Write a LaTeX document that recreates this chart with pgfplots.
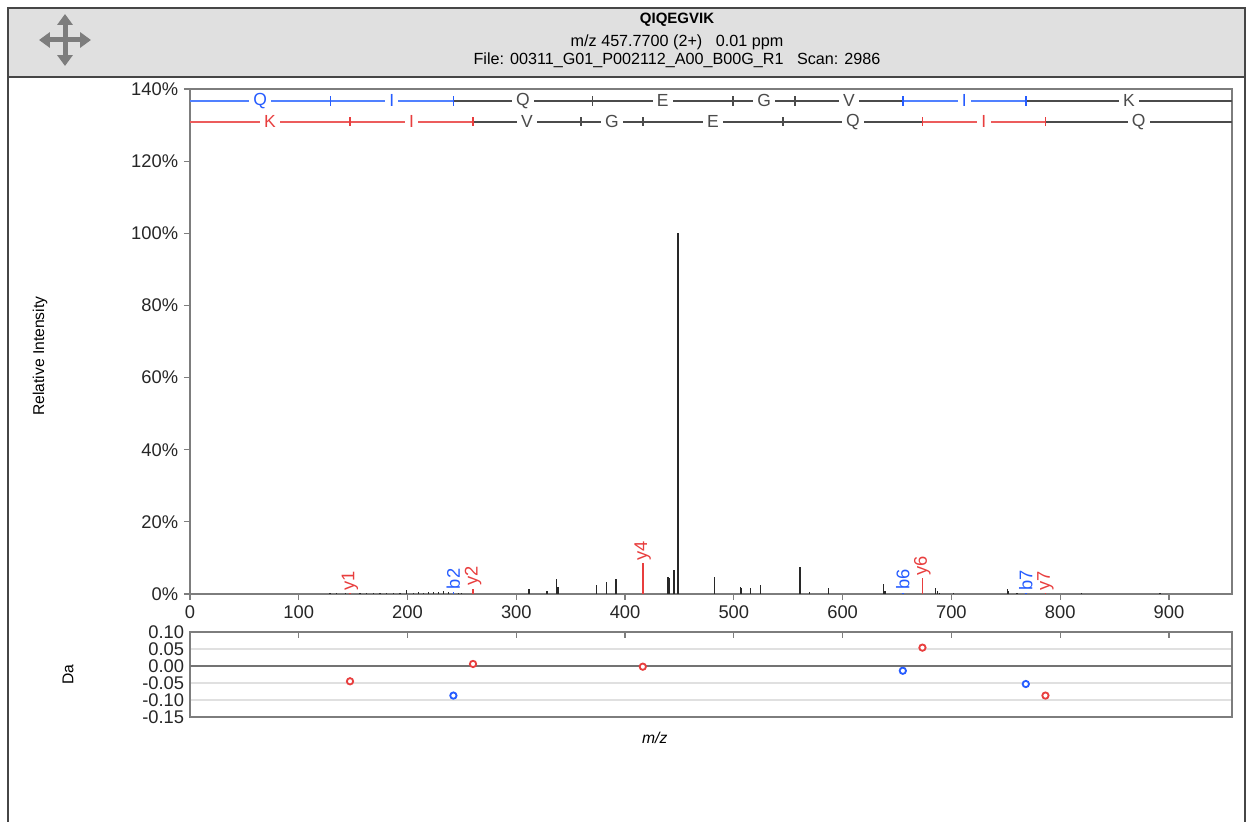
\documentclass[border=0pt]{standalone}
\usepackage{fontspec}
\setmainfont{Liberation Sans}
\usepackage{pgfplots}
\pgfplotsset{compat=1.18}
\usetikzlibrary{arrows.meta}
\definecolor{ionblue}{RGB}{38,92,255}
\definecolor{ionred}{RGB}{232,62,62}
\definecolor{ladblue}{RGB}{80,128,255}
\definecolor{ladred}{RGB}{236,92,92}
\definecolor{ladgray}{RGB}{75,75,75}
\definecolor{hdrgray}{RGB}{224,224,224}
\definecolor{framegray}{RGB}{70,70,70}
\definecolor{axgray}{RGB}{125,125,125}
\definecolor{peakgray}{RGB}{40,40,40}
\definecolor{icongray}{RGB}{125,125,125}

\pgfplotsset{
  ladlbl/.style={draw=none, mark=none, nodes near coords, point meta=explicit symbolic,
    nodes near coords align=center,
    every node near coord/.append style={fill=white, inner xsep=2.5pt, inner ysep=0pt,
      font=\fontsize{10.5}{11}\selectfont, text=#1}},
  ladline/.style={#1, line width=0.9pt, mark=none},
  ladtick/.style={only marks, mark=|, mark size=2.8pt, mark options={#1, line width=0.9pt}},
  ionlbl/.style={ycomb, #1, line width=0.85pt, mark=none, nodes near coords, point meta=explicit symbolic,
    nodes near coords align=west,
    every node near coord/.append style={rotate=90, inner sep=1.2pt,
      font=\fontsize{11}{11}\selectfont, text=#1}},
}

\begin{document}
\begin{tikzpicture}[x=0.6pt,y=0.6pt]
\path (0,0) rectangle (1252,822);
% header band
\fill[hdrgray] (8,745) rectangle (1245,814);
\draw[framegray, line width=0.9pt] (8,0) -- (8,814) -- (1245,814) -- (1245,0);
\draw[framegray, line width=0.9pt] (8,745) -- (1245,745);
% move icon
\begin{scope}[shift={(65,782)}, icongray, line width=3pt]
  \foreach \a in {0,90,180,270}
    \draw[-{Triangle[width=9pt,length=6.5pt]}] (0,0) -- (\a:26);
\end{scope}
\node[font=\fontsize{9}{10}\selectfont\bfseries] at (677,802) {QIQEGVIK};
\node[font=\fontsize{9.7}{11}\selectfont] at (677,780) {m/z 457.7700 (2+)\ \ \ 0.01 ppm};
\node[font=\fontsize{9.7}{11}\selectfont] at (677,762) {File: 00311\_G01\_P002112\_A00\_B00G\_R1\ \ \ Scan: 2986};

% spectrum
\begin{axis}[
  at={(114pt,136.8pt)}, anchor=south west,
  scale only axis, width=625.2pt, height=303pt,
  xmin=0, xmax=958, ymin=0, ymax=140,
  xtick={0,100,...,900}, ytick={0,20,...,140},
  yticklabel={\pgfmathprintnumber{\tick}\%},
  tick align=outside, xtick pos=left, ytick pos=left,
  major tick length=3.6pt,
  axis line style={axgray, line width=0.8pt},
  tick style={axgray, line width=0.7pt},
  ticklabel style={font=\fontsize{11}{12}\selectfont, text=black!85},
  /pgf/number format/assume math mode=true,
  ylabel={Relative Intensity},
  ylabel style={at={(axis description cs:-0.144,0.471)}, anchor=center, font=\fontsize{9.4}{11}\selectfont},
  clip=false,
]
\addplot[ycomb, peakgray, line width=0.85pt, mark=none] table {
mz int
128.7 0.3
134.8 0.2
143.0 0.2
156.3 0.3
162.4 0.2
168.5 0.3
174.7 0.3
180.8 0.3
186.9 0.4
193.0 0.3
199.2 1.0
205.3 0.4
209.9 0.5
214.5 0.4
219.1 0.5
223.7 0.6
228.3 0.5
232.9 0.7
237.5 0.6
246.7 0.4
249.7 0.3
311.6 1.3
328.2 0.8
337.1 4.2
338.2 2.0
373.9 2.4
382.7 3.4
391.6 4.2
439.4 4.8
440.3 4.4
445.0 6.7
448.6 100
482.0 4.6
506.0 2.0
507.0 1.6
515.4 1.7
524.5 2.6
560.8 7.6
569.3 0.6
586.8 1.7
637.4 2.9
639.0 0.8
685.3 1.7
687.2 0.9
689.0 0.4
702.0 0.3
751.4 1.3
752.6 0.8
760.4 0.3
819.7 0.2
891.7 0.2
};
\addplot[ionlbl=ionred] coordinates {(147.11,0.3)[y1] (260.20,1.5)[y2] (416.29,8.6)[y4] (673.39,4.3)[y6] (786.47,0.3)[y7]};
\addplot[ionlbl=ionblue] coordinates {(242.15,0.6)[b2] (655.34,0.4)[b6] (768.42,0.3)[b7]};

% b-ion ladder
\addplot[ladline=ladblue] coordinates {(0,136.7) (242.15,136.7)};
\addplot[ladline=ladgray] coordinates {(242.15,136.7) (655.34,136.7)};
\addplot[ladline=ladblue] coordinates {(655.34,136.7) (768.42,136.7)};
\addplot[ladline=ladgray] coordinates {(768.42,136.7) (958,136.7)};
\addplot[ladtick=ionblue] coordinates {(129.07,136.7) (242.15,136.7) (655.34,136.7) (768.42,136.7)};
\addplot[ladtick=ladgray] coordinates {(370.21,136.7) (499.25,136.7) (556.27,136.7)};
\addplot[ladlbl=ionblue] coordinates {(64.5,136.7)[Q] (185.6,136.7)[I] (711.9,136.7)[I]};
\addplot[ladlbl=ladgray] coordinates {(306.2,136.7)[Q] (434.7,136.7)[E] (527.8,136.7)[G] (605.8,136.7)[V] (863.2,136.7)[K]};

% y-ion ladder
\addplot[ladline=ladred] coordinates {(0,130.9) (260.20,130.9)};
\addplot[ladline=ladgray] coordinates {(260.20,130.9) (673.39,130.9)};
\addplot[ladline=ladred] coordinates {(673.39,130.9) (786.47,130.9)};
\addplot[ladline=ladgray] coordinates {(786.47,130.9) (958,130.9)};
\addplot[ladtick=ionred] coordinates {(147.11,130.9) (260.20,130.9) (673.39,130.9) (786.47,130.9)};
\addplot[ladtick=ladgray] coordinates {(359.27,130.9) (416.29,130.9) (545.33,130.9)};
\addplot[ladlbl=ionred] coordinates {(73.6,130.9)[K] (203.7,130.9)[I] (729.9,130.9)[I]};
\addplot[ladlbl=ladgray] coordinates {(309.7,130.9)[V] (387.8,130.9)[G] (480.8,130.9)[E] (609.4,130.9)[Q] (872.2,130.9)[Q]};
\end{axis}

% mass error panel
\begin{axis}[
  at={(114pt,63pt)}, anchor=south west,
  scale only axis, width=625.2pt, height=51pt,
  xmin=0, xmax=958, ymin=-0.15, ymax=0.10,
  xtick={0,100,...,900}, xticklabels={}, xtick pos=right, tick align=inside,
  major tick length=3.6pt,
  ytick={-0.15,-0.1,-0.05,0,0.05,0.1},
  ytick style={draw=none},
  ymajorgrids, grid style={black!12, line width=0.8pt},
  axis line style={axgray, line width=0.8pt},
  tick style={axgray, line width=0.7pt},
  ticklabel style={font=\fontsize{11}{12}\selectfont, text=black!85},
  /pgf/number format/assume math mode=true,
  yticklabel style={/pgf/number format/.cd, fixed, fixed zerofill, precision=2},
  ylabel={Da},
  ylabel style={at={(axis description cs:-0.117,0.5)}, anchor=center, font=\fontsize{9.4}{11}\selectfont},
  xlabel={\textit{m/z}},
  xlabel style={at={(axis description cs:0.446,-0.247)}, anchor=center, font=\fontsize{9.4}{11}\selectfont},
]
\addplot[black!55, line width=1.2pt, mark=none] coordinates {(0,0) (958,0)};
\addplot[only marks, mark=*, mark size=1.9pt, mark options={draw=ionred, fill=white, line width=1.1pt}]
  coordinates {(147.11,-0.045) (260.20,0.006) (416.29,-0.002) (673.39,0.054) (786.47,-0.087)};
\addplot[only marks, mark=*, mark size=1.9pt, mark options={draw=ionblue, fill=white, line width=1.1pt}]
  coordinates {(242.15,-0.087) (655.34,-0.014) (768.42,-0.053)};
\end{axis}
\end{tikzpicture}
\end{document}
